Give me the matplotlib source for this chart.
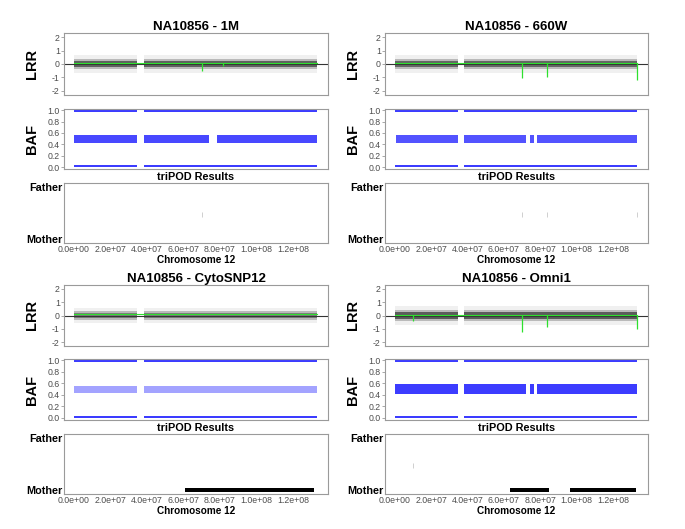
import matplotlib
matplotlib.use("Agg")
import matplotlib.pyplot as plt

plt.rcParams["font.family"] = ["Liberation Sans", "DejaVu Sans"]
plt.rcParams["axes.unicode_minus"] = False

# platforms, in panel order (top-left, top-right, bottom-left, bottom-right)
platforms = ["1M", "660W", "CytoSNP12", "Omni1"]
sample = "NA10856"

# chromosome 12 arms covered by SNPs (bp)
arm_segments = [(0.1e6, 3.47e7), (3.82e7, 1.335e8)]

# LRR cloud: dense core, mid and sparse halo half-widths
lrr_core = [0.25, 0.25, 0.2, 0.28]
lrr_mid = [0.4, 0.4, 0.33, 0.42]
lrr_halo = [0.65, 0.65, 0.55, 0.7]
lrr_alpha = [0.8, 0.75, 0.55, 0.85]

# smoothed LRR (green): baseline and dips (position, depth)
green_level = [0.05, 0.05, 0.08, 0.05]
green_dips = [
    [(7.0e7, -0.55), (8.2e7, -0.15)],
    [(7.0e7, -1.05), (8.4e7, -0.95), (1.331e8, -1.2)],
    [],
    [(1.0e7, -0.45), (7.0e7, -1.25), (8.4e7, -0.9), (1.331e8, -1.0)],
]

# BAF heterozygous band segments around 0.5
baf_het_segments = [
    [(0.1e6, 3.47e7), (3.83e7, 7.43e7), (7.87e7, 1.335e8)],
    [(0.5e6, 3.5e7), (3.82e7, 7.24e7), (7.42e7, 7.66e7), (7.84e7, 1.333e8)],
    [(0.1e6, 3.45e7), (3.85e7, 1.335e8)],
    [(0.1e6, 3.5e7), (3.82e7, 7.24e7), (7.42e7, 7.66e7), (7.84e7, 1.335e8)],
]
baf_het_alpha = [0.8, 0.75, 0.4, 0.85]
baf_het_lo = [0.43, 0.43, 0.44, 0.41]
baf_het_hi = [0.57, 0.56, 0.56, 0.59]

# triPOD calls (mother), start/end in bp
tripod_calls = [
    [],
    [],
    [(6.07e7, 6.89e7), (6.94e7, 1.317e8)],
    [(6.33e7, 8.51e7), (9.66e7, 1.326e8)],
]
# faint marks in the triPOD panel
tripod_marks = [
    [7.0e7],
    [7.0e7, 8.4e7, 1.331e8],
    [],
    [1.0e7],
]

xticks = [0, 2e7, 4e7, 6e7, 8e7, 1e8, 1.2e8]
xtick_labels = ["0.0e+00", "2.0e+07", "4.0e+07", "6.0e+07", "8.0e+07", "1.0e+08", "1.2e+08"]
xlim = (-5.4e6, 1.393e8)

W, H = 685, 529
fig = plt.figure(figsize=(W / 100, H / 100), dpi=100)

frame_col = "#9a9a9a"
tick_col = "#4d4d4d"


def box(x0, x1, y0, y1):
    return [x0 / W, 1 - y1 / H, (x1 - x0) / W, (y1 - y0) / H]


def style(ax):
    for s in ax.spines.values():
        s.set_color(frame_col)
        s.set_linewidth(0.8)
    ax.tick_params(axis="both", colors=frame_col, labelcolor=tick_col,
                   labelsize=6.3, length=2, width=0.6, pad=1)
    ax.set_xlim(*xlim)


cols = [(64, 328), (385, 648)]
rows = [
    dict(lrr=(33, 95), baf=(109, 169), tri=(183, 243)),
    dict(lrr=(285, 346), baf=(359, 420), tri=(434, 494)),
]

for i, plat in enumerate(platforms):
    x0, x1 = cols[i % 2]
    r = rows[i // 2]
    lab_x = -25 / (x1 - x0)

    # LRR
    ax = fig.add_axes(box(x0, x1, *r["lrr"]))
    style(ax)
    for a, b in arm_segments:
        ax.fill_between([a, b], -lrr_halo[i], lrr_halo[i], color="#b0b0b0",
                        alpha=0.18, lw=0)
        ax.fill_between([a, b], -lrr_mid[i], lrr_mid[i], color="#7a7a7a",
                        alpha=0.45, lw=0)
        ax.fill_between([a, b], -lrr_core[i], lrr_core[i], color="#4a4a4a",
                        alpha=lrr_alpha[i], lw=0)
    ax.axhline(0, color="#333333", lw=0.8)
    ax.plot([arm_segments[0][0], arm_segments[-1][1]], [green_level[i]] * 2,
            color="#2ee02e", lw=0.8)
    for pos, depth in green_dips[i]:
        ax.vlines(pos, green_level[i], depth, color="#2ee02e", lw=0.9)
    ax.set_ylim(-2.3, 2.3)
    ax.set_yticks([-2, -1, 0, 1, 2])
    ax.set_xticks([])
    ax.set_ylabel("LRR", fontsize=10.5, fontweight="bold")
    ax.yaxis.set_label_coords(lab_x, 0.5)
    ax.set_title(f"{sample} - {plat}", fontsize=9.5, fontweight="bold", pad=2)

    # BAF
    ax = fig.add_axes(box(x0, x1, *r["baf"]))
    style(ax)
    for a, b in arm_segments:
        ax.fill_between([a, b], 0.965, 1.0, color="#1a1aff", alpha=0.85, lw=0)
        ax.fill_between([a, b], 0.0, 0.035, color="#1a1aff", alpha=0.85, lw=0)
    for a, b in baf_het_segments[i]:
        ax.fill_between([a, b], baf_het_lo[i], baf_het_hi[i], color="#1a1aff",
                        alpha=baf_het_alpha[i], lw=0)
    ax.set_ylim(-0.035, 1.02)
    ax.set_yticks([0, 0.2, 0.4, 0.6, 0.8, 1.0])
    ax.set_yticklabels(["0.0", "0.2", "0.4", "0.6", "0.8", "1.0"])
    ax.set_xticks([])
    ax.set_ylabel("BAF", fontsize=10.5, fontweight="bold")
    ax.yaxis.set_label_coords(lab_x, 0.5)

    # triPOD
    ax = fig.add_axes(box(x0, x1, *r["tri"]))
    style(ax)
    for a, b in tripod_calls[i]:
        ax.fill_between([a, b], -0.045, 0.045, color="black", lw=0)
    for pos in tripod_marks[i]:
        ax.vlines(pos, 0.42, 0.52, color="#c8c8c8", lw=0.6)
    ax.set_ylim(-0.08, 1.08)
    ax.set_yticks([0, 1])
    ax.set_yticklabels(["Mother", "Father"], fontsize=7.8, fontweight="bold",
                       color="black")
    ax.set_xticks(xticks)
    ax.set_xticklabels(xtick_labels)
    ax.tick_params(axis="both", length=0, pad=1.5)
    ax.tick_params(axis="y", pad=1)
    ax.set_title("triPOD Results", fontsize=7.8, fontweight="bold", pad=2)
    ax.set_xlabel("Chromosome 12", fontsize=7.2, fontweight="bold", labelpad=1)

fig.savefig("out.png", dpi=100)
